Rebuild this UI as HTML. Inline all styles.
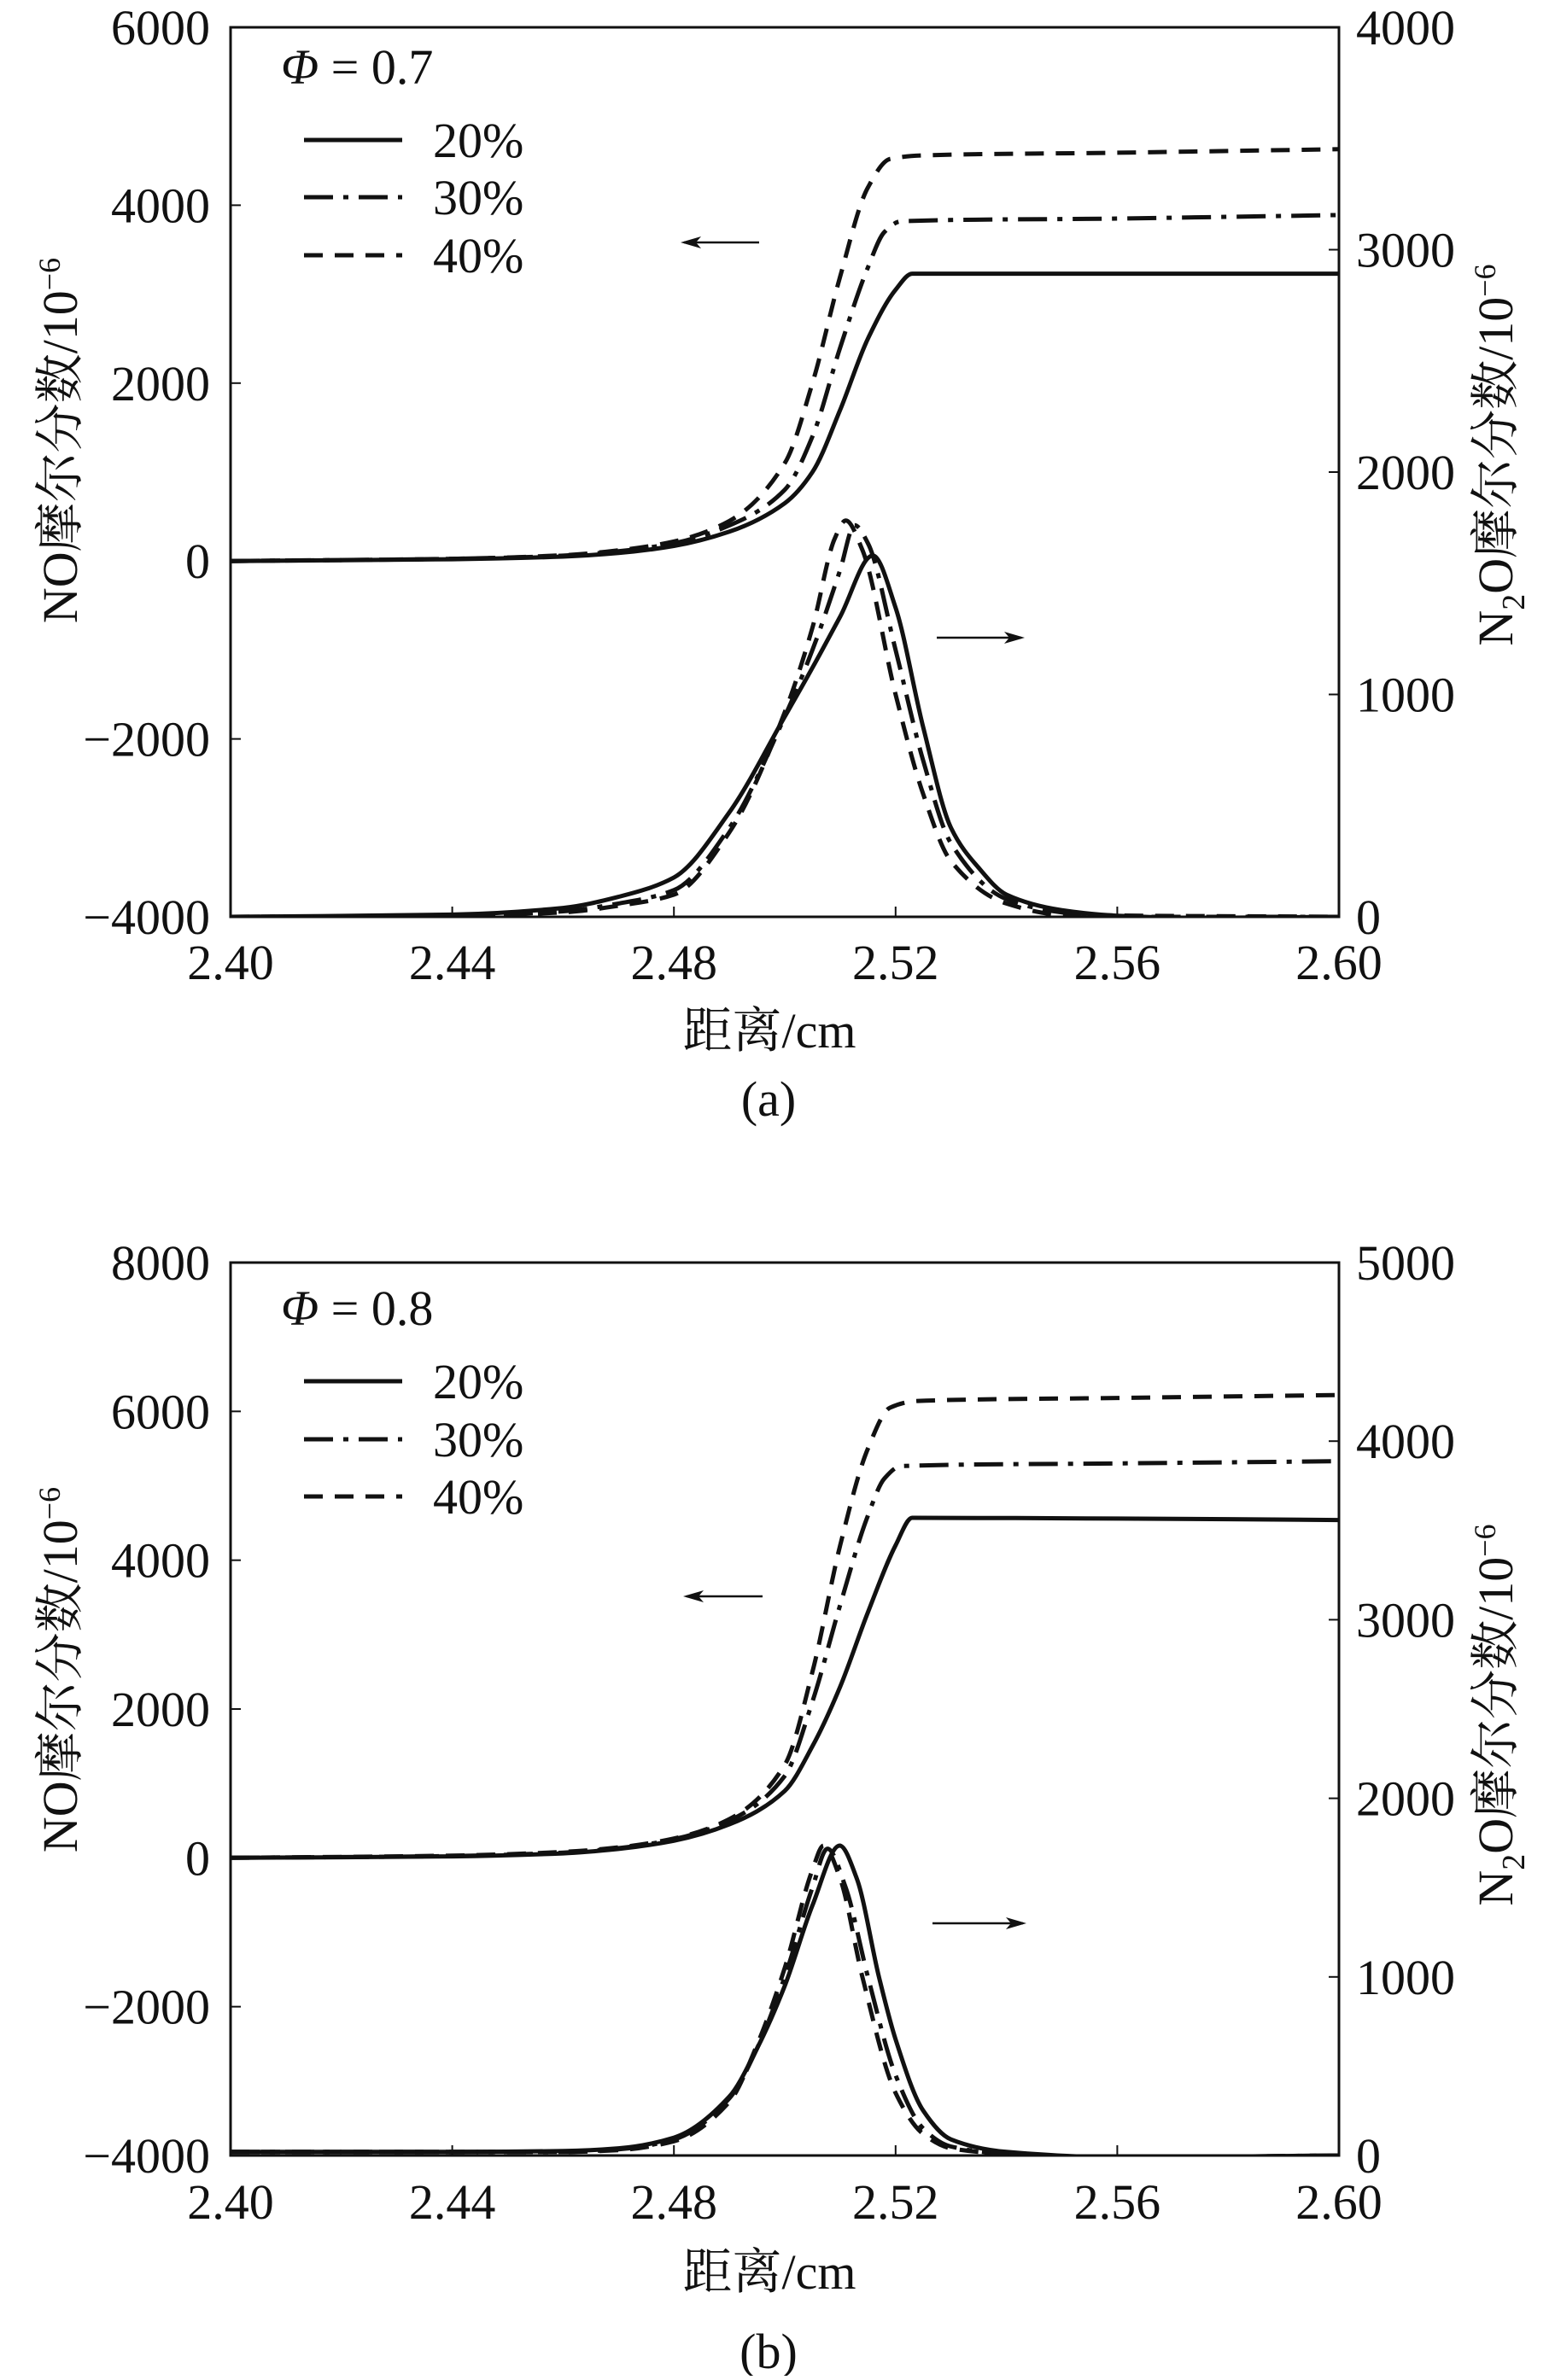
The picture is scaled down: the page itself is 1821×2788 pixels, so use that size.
<!DOCTYPE html>
<html><head><meta charset="utf-8"><style>
html,body{margin:0;padding:0;background:#fff;}
svg text{font-family:"Liberation Serif","Times New Roman","Noto Serif CJK SC",serif;fill:#111;}
</style></head><body>
<svg id="fig" xmlns="http://www.w3.org/2000/svg" width="1821" height="2783" viewBox="0 0 1821 2783" font-family="Liberation Serif, Noto Serif CJK SC, serif"></svg>
<script>
// ---- Data (panel a) ----
const aLabels = ["20%","30%","40%"];
const xTicks = [2.40,2.44,2.48,2.52,2.56,2.60];
const xTickLabels = ["2.40","2.44","2.48","2.52","2.56","2.60"];
const aLeftTicks = [-4000,-2000,0,2000,4000,6000];
const aRightTicks = [0,1000,2000,3000,4000];
const aNO20x = [2.40,2.44,2.46,2.47,2.48,2.49,2.50,2.505,2.51,2.515,2.52,2.523,2.56,2.60];
const aNO20y = [0,20,50,90,170,330,650,1000,1700,2500,3050,3230,3230,3230];
const aNO30x = [2.40,2.44,2.46,2.47,2.48,2.49,2.50,2.505,2.51,2.515,2.518,2.521,2.56,2.60];
const aNO30y = [0,25,60,110,200,400,800,1400,2400,3300,3700,3820,3850,3890];
const aNO40x = [2.40,2.44,2.46,2.47,2.48,2.49,2.50,2.505,2.51,2.515,2.519,2.525,2.56,2.60];
const aNO40y = [0,25,65,120,220,450,1100,2000,3200,4200,4520,4560,4590,4630];
const aN2O20x = [2.40,2.44,2.46,2.47,2.48,2.49,2.50,2.505,2.51,2.5159,2.52,2.525,2.53,2.535,2.54,2.55,2.56,2.575,2.60];
const aN2O20y = [0,10,40,90,177,470,900,1120,1350,1625,1390,850,400,220,100,30,5,-5,0];
const aN2O30x = [2.40,2.44,2.46,2.47,2.48,2.49,2.50,2.505,2.51,2.5126,2.515,2.52,2.525,2.53,2.54,2.55,2.56,2.60];
const aN2O30y = [0,5,25,60,120,400,900,1200,1560,1761,1680,1200,700,330,80,20,0,0];
const aN2O40x = [2.40,2.44,2.46,2.47,2.48,2.49,2.50,2.505,2.509,2.511,2.514,2.52,2.525,2.53,2.54,2.55,2.60];
const aN2O40y = [0,5,20,50,100,380,920,1300,1700,1782,1650,1000,550,250,60,10,0];
// ---- Data (panel b) ----
const bLeftTicks = [-4000,-2000,0,2000,4000,6000,8000];
const bRightTicks = [0,1000,2000,3000,4000,5000];
const bNO20x = [2.40,2.44,2.46,2.47,2.48,2.49,2.50,2.505,2.51,2.515,2.52,2.523,2.56,2.60];
const bNO20y = [0,20,60,120,230,450,900,1500,2300,3300,4200,4570,4560,4540];
const bNO30x = [2.40,2.44,2.46,2.47,2.48,2.49,2.50,2.505,2.51,2.515,2.518,2.521,2.56,2.60];
const bNO30y = [0,25,70,130,250,500,1100,2100,3400,4600,5100,5265,5300,5330];
const bNO40x = [2.40,2.44,2.46,2.47,2.48,2.49,2.50,2.505,2.51,2.515,2.519,2.524,2.56,2.60];
const bNO40y = [0,30,80,140,260,520,1250,2500,4200,5500,6050,6140,6180,6220];
const bN2O20x = [2.40,2.44,2.46,2.47,2.48,2.49,2.495,2.50,2.505,2.5099,2.513,2.517,2.52,2.525,2.53,2.54,2.56,2.60];
const bN2O20y = [20,20,25,40,100,330,600,950,1400,1735,1550,1000,650,250,90,20,-10,0];
const bN2O30x = [2.40,2.44,2.46,2.47,2.48,2.49,2.495,2.50,2.505,2.5077,2.511,2.515,2.52,2.525,2.53,2.54,2.56,2.60];
const bN2O30y = [20,20,20,35,90,320,600,1000,1500,1718,1500,1000,450,150,50,10,-10,0];
const bN2O40x = [2.40,2.44,2.46,2.47,2.48,2.49,2.495,2.50,2.505,2.507,2.51,2.514,2.52,2.525,2.53,2.54,2.56,2.60];
const bN2O40y = [20,20,20,30,80,300,620,1050,1600,1735,1550,1000,350,120,40,10,-10,0];

const NS="http://www.w3.org/2000/svg";
const svg=document.getElementById('fig');
function mk(tag,attrs,parent){const e=document.createElementNS(NS,tag);for(const k in attrs)e.setAttribute(k,attrs[k]);(parent||svg).appendChild(e);return e;}
const dashes={"20%":"none","30%":"34,12,6,12","40%":"22,14"};

// monotone cubic (Fritsch-Carlson) sampling in pixel space
function monoPath(pts){
  const n=pts.length, d=[], m=[];
  for(let i=0;i<n-1;i++) d.push((pts[i+1][1]-pts[i][1])/(pts[i+1][0]-pts[i][0]));
  m[0]=d[0]; m[n-1]=d[n-2];
  for(let i=1;i<n-1;i++){
    if(d[i-1]*d[i]<=0) m[i]=0;
    else{const h0=pts[i][0]-pts[i-1][0],h1=pts[i+1][0]-pts[i][0];
      const w1=2*h1+h0,w2=h1+2*h0; m[i]=(w1+w2)/(w1/d[i-1]+w2/d[i]);}
  }
  let s="M"+pts[0][0].toFixed(1)+","+pts[0][1].toFixed(1);
  for(let i=0;i<n-1;i++){
    const h=pts[i+1][0]-pts[i][0];
    s+=" C"+(pts[i][0]+h/3).toFixed(1)+","+(pts[i][1]+m[i]*h/3).toFixed(1)+" "+
       (pts[i+1][0]-h/3).toFixed(1)+","+(pts[i+1][1]-m[i+1]*h/3).toFixed(1)+" "+
       pts[i+1][0].toFixed(1)+","+pts[i+1][1].toFixed(1);
  }
  return s;
}

function panel(cfg){
  const g=mk('g',{});
  
  
  const L=270,R=1568,T=cfg.top,B=cfg.bottom;
  const xs=v=>L+(v-2.40)/(0.20)*(R-L);
  const yl=v=>B-(v-cfg.lmin)/(cfg.lmax-cfg.lmin)*(B-T);
  const yr=v=>B-(v-cfg.rmin)/(cfg.rmax-cfg.rmin)*(B-T);
  const frame=mk('rect',{x:L,y:T,width:R-L,height:B-T,fill:'none',stroke:'#111','stroke-width':3},g);
  
  
  xTicks.forEach((v,i)=>{
    const x=xs(v);
    const t=mk('line',{x1:x,y1:B,x2:x,y2:B-12,stroke:'#111','stroke-width':2},g);
    
    
    const tx=mk('text',{x:x,y:cfg.xlabY,'text-anchor':'middle','font-size':58},g);
    tx.textContent=xTickLabels[i];
    
    
  });
  cfg.lticks.forEach(v=>{
    const y=yl(v);
    const t=mk('line',{x1:L,y1:y,x2:L+12,y2:y,stroke:'#111','stroke-width':2},g);
    
    
    const tx=mk('text',{x:246,y:y+20,'text-anchor':'end','font-size':58},g);
    tx.textContent=v<0?"\u2212"+Math.abs(v):String(v);
    
    
  });
  cfg.rticks.forEach(v=>{
    const y=yr(v);
    const t=mk('line',{x1:R,y1:y,x2:R-12,y2:y,stroke:'#111','stroke-width':2},g);
    
    
    const tx=mk('text',{x:1588,y:y+20,'text-anchor':'start','font-size':58},g);
    tx.textContent=String(v);
    
    
  });
  const clip=mk('clipPath',{id:'clip'+cfg.id},g);
  mk('rect',{x:L,y:T,width:R-L,height:B-T},clip);
  cfg.no.forEach((s,i)=>{
    const pts=s[0].map((x,j)=>[xs(x),yl(s[1][j])]);
    const p=mk('path',{d:monoPath(pts),fill:'none',stroke:'#111','stroke-width':5,'stroke-dasharray':dashes[aLabels[i]],'clip-path':'url(#clip'+cfg.id+')'},g);
    
    
  });
  cfg.n2o.forEach((s,i)=>{
    const pts=s[0].map((x,j)=>[xs(x),yr(s[1][j])]);
    const p=mk('path',{d:monoPath(pts),fill:'none',stroke:'#111','stroke-width':5,'stroke-dasharray':dashes[aLabels[i]],'clip-path':'url(#clip'+cfg.id+')'},g);
    
    
  });
  const phi=mk('text',{x:329,y:cfg.phiY,'font-size':58},g);
  phi.innerHTML='<tspan font-style="italic">Φ</tspan> = '+cfg.phi;
  
  
  aLabels.forEach((lab,i)=>{
    const y=cfg.legY[i];
    const l=mk('line',{x1:356,y1:y,x2:471,y2:y,stroke:'#111','stroke-width':5,'stroke-dasharray':dashes[lab]},g);
    
    
    const t=mk('text',{x:507,y:y+20,'font-size':58},g);
    t.textContent=lab;
    
    
  });
  cfg.arrows.forEach(a=>{
    const [x1,x2,y]=a;
    const dir=Math.sign(x2-x1);
    const l=mk('line',{x1:x1,y1:y,x2:x2-dir*4,y2:y,stroke:'#111','stroke-width':2.5},g);
    
    
    const h=mk('path',{d:`M${x2},${y} L${x2-dir*24},${y-7} L${x2-dir*18},${y} L${x2-dir*24},${y+7} Z`,fill:'#111'},g);
    
    
  });
  const xt=mk('text',{x:901,y:cfg.xtitleY,'text-anchor':'middle','font-size':58},g);
  xt.textContent='距离/cm';
  
  
  const cap=mk('text',{x:900,y:cfg.capY,'text-anchor':'middle','font-size':58},g);
  cap.textContent=cfg.cap;
  
  
  const lyt=mk('text',{x:0,y:0,'text-anchor':'middle','font-size':58,transform:`translate(90,${cfg.lyc}) rotate(-90)`},g);
  lyt.innerHTML='NO摩尔分数/10<tspan dy="-20" font-size="36">−6</tspan>';
  
  
  const ryt=mk('text',{x:0,y:0,'text-anchor':'middle','font-size':58,transform:`translate(1771,${cfg.ryc}) rotate(-90)`},g);
  ryt.innerHTML='N<tspan dy="14" font-size="38">2</tspan><tspan dy="-14">O摩尔分数/10</tspan><tspan dy="-20" font-size="36">−6</tspan>';
  
  
}

panel({id:'a',name:'panel-a',top:32,bottom:1074,lmin:-4000,lmax:6000,rmin:0,rmax:4000,
  lticks:aLeftTicks,rticks:aRightTicks,xlabY:1147,xtitleY:1227,capY:1307,cap:'(a)',
  phi:'0.7',phiY:98,legY:[164,231,299],lyc:516,ryc:533,
  arrows:[[889,797,284],[1097,1200,747]],
  no:[[aNO20x,aNO20y],[aNO30x,aNO30y],[aNO40x,aNO40y]],
  n2o:[[aN2O20x,aN2O20y],[aN2O30x,aN2O30y],[aN2O40x,aN2O40y]]});
panel({id:'b',name:'panel-b',top:1479,bottom:2525,lmin:-4000,lmax:8000,rmin:0,rmax:5000,
  lticks:bLeftTicks,rticks:bRightTicks,xlabY:2599,xtitleY:2681,capY:2774,cap:'(b)',
  phi:'0.8',phiY:1552,legY:[1618,1686,1753],lyc:1956,ryc:2009,
  arrows:[[893,800,1870],[1092,1202,2253]],
  no:[[bNO20x,bNO20y],[bNO30x,bNO30y],[bNO40x,bNO40y]],
  n2o:[[bN2O20x,bN2O20y],[bN2O30x,bN2O30y],[bN2O40x,bN2O40y]]});
</script>
</body></html>
